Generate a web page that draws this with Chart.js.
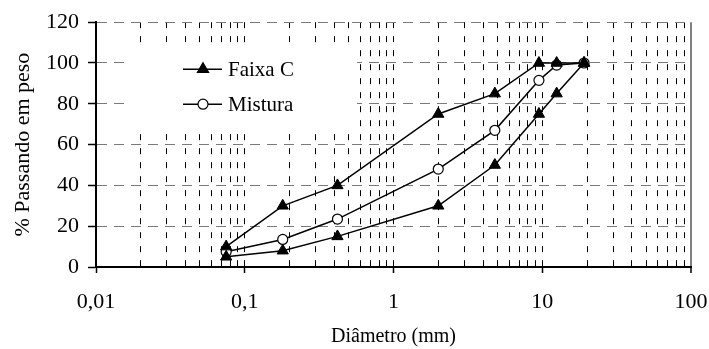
<!DOCTYPE html>
<html>
<head>
<meta charset="utf-8">
<script src="https://cdn.jsdelivr.net/npm/chart.js@4.4.0/dist/chart.umd.min.js"></script>
<style>
  html, body { margin: 0; padding: 0; background: #fff; }
  #wrap { width: 709px; height: 349px; }
</style>
</head>
<body>
<div id="wrap"><canvas id="myChart"></canvas></div>
<script>
const ctx = document.getElementById("myChart");

// peneiras (mm)
const sieves = [0.075, 0.18, 0.42, 2.0, 4.8, 9.5, 12.5, 19.1];
const faixaCMax = [10, 30, 40, 75, 85, 100, 100, 100];
const faixaCMin = [5, 8, 15, 30, 50, 75, 85, 100];
const mistura = [7.5, 13.5, 23.5, 48, 67, 91.5, 99, 100];

const decades = [0.01, 0.1, 1, 10, 100];
const xTickLabels = ["0,01", "0,1", "1", "10", "100"];
const yTicks = [0, 20, 40, 60, 80, 100, 120];

const serif = "'Liberation Serif', 'Times New Roman', serif";

const isDecade = (v) => decades.some((d) => Math.abs(d - v) < d * 1e-6);
const isLast = (c) => c.tick && Math.abs(c.tick.value - 100) < 1e-6;

const toPoints = (values) => sieves.map((s, i) => ({ x: s, y: values[i] }));

// legenda dentro da área do gráfico, com fundo branco
const legendBox = {
  id: "legendBox",
  beforeDatasetsDraw(chart) {
    const c = chart.ctx;
    const a = chart.chartArea;
    const x0 = a.left + 34;
    const y0 = a.top + 24;
    c.save();
    c.fillStyle = "#fff";
    c.fillRect(x0, y0, 227, 82);
    const items = [
      { text: "Faixa C", ds: chart.data.datasets[0], y: a.top + 47 },
      { text: "Mistura", ds: chart.data.datasets[2], y: a.top + 82 },
    ];
    items.forEach((it) => {
      c.strokeStyle = "#000";
      c.lineWidth = 1.5;
      c.beginPath();
      c.moveTo(a.left + 87, it.y);
      c.lineTo(a.left + 126, it.y);
      c.stroke();
      c.fillStyle = it.ds.pointBackgroundColor;
      c.strokeStyle = "#000";
      c.lineWidth = 1.2;
      Chart.helpers.drawPoint(
        c,
        { pointStyle: it.ds.pointStyle, radius: it.ds.pointRadius, rotation: 0, borderWidth: 1.2 },
        a.left + 107,
        it.y
      );
      c.fillStyle = "#000";
      c.font = "21px " + serif;
      c.textBaseline = "middle";
      c.textAlign = "left";
      c.fillText(it.text, a.left + 132, it.y + 1);
    });
    c.restore();
  },
};

new Chart(ctx, {
  type: "line",
  data: {
    datasets: [
      {
        label: "Faixa C",
        data: toPoints(faixaCMax),
        borderColor: "#000",
        borderWidth: 1.5,
        pointStyle: "triangle",
        pointRadius: 6.5,
        pointBackgroundColor: "#000",
        pointBorderColor: "#000",
        pointBorderWidth: 1,
      },
      {
        label: "Faixa C (mín)",
        data: toPoints(faixaCMin),
        borderColor: "#000",
        borderWidth: 1.5,
        pointStyle: "triangle",
        pointRadius: 6.5,
        pointBackgroundColor: "#000",
        pointBorderColor: "#000",
        pointBorderWidth: 1,
      },
      {
        label: "Mistura",
        data: toPoints(mistura),
        borderColor: "#000",
        borderWidth: 1.5,
        pointStyle: "circle",
        pointRadius: 5,
        pointBackgroundColor: "#fff",
        pointBorderColor: "#000",
        pointBorderWidth: 1.2,
      },
    ],
  },
  options: {
    responsive: true,
    maintainAspectRatio: false,
    animation: false,
    events: [],
    layout: { padding: { top: 22, right: 18, left: 0, bottom: 0 } },
    plugins: {
      legend: { display: false },
      tooltip: { enabled: false },
    },
    scales: {
      x: {
        type: "logarithmic",
        min: 0.01,
        max: 100,
        afterBuildTicks: (scale) => {
          const t = [];
          decades.forEach((d, i) => {
            if (i < decades.length - 1) {
              for (let m = 1; m < 10; m++) t.push({ value: d * m });
            } else {
              t.push({ value: d });
            }
          });
          scale.ticks = t;
        },
        afterFit: (scale) => {
          scale.height = 82;
          scale.paddingLeft = 0;
          scale.paddingRight = 0;
        },
        ticks: {
          autoSkip: false,
          maxRotation: 0,
          padding: 16,
          color: "#000",
          font: { family: serif, size: 22 },
          callback: (value) => {
            const i = decades.findIndex((d) => Math.abs(d - value) < d * 1e-6);
            return i >= 0 ? xTickLabels[i] : "";
          },
        },
        grid: {
          color: (c) => (isLast(c) ? "#808080" : "#000"),
          lineWidth: (c) => (isLast(c) ? 2 : 1),
          tickLength: 6,
          tickColor: (c) => (c.tick && isDecade(c.tick.value) ? "#000" : "rgba(0,0,0,0)"),
          tickWidth: 1.5,
        },
        border: {
          color: "#000",
          width: 2,
          dash: (c) => (isLast(c) ? [] : [6, 8]),
        },
        title: {
          display: true,
          text: "Diâmetro (mm)",
          color: "#000",
          font: { family: serif, size: 20 },
          padding: { top: 0, bottom: 0 },
        },
      },
      y: {
        min: 0,
        max: 120,
        afterBuildTicks: (scale) => {
          scale.ticks = yTicks.map((v) => ({ value: v }));
        },
        afterFit: (scale) => {
          scale.width = 96;
        },
        ticks: {
          padding: 9,
          color: "#000",
          font: { family: serif, size: 22 },
        },
        grid: {
          color: "#7a7a7a",
          lineWidth: 1,
          tickLength: 8,
          tickColor: "#000",
          tickWidth: 1.5,
        },
        border: {
          color: "#000",
          width: 2,
          dash: [10, 7],
        },
        title: {
          display: true,
          text: "% Passando em peso",
          color: "#000",
          font: { family: serif, size: 22 },
          padding: { top: 10, bottom: 0 },
        },
      },
    },
  },
  plugins: [legendBox],
});
</script>
</body>
</html>
